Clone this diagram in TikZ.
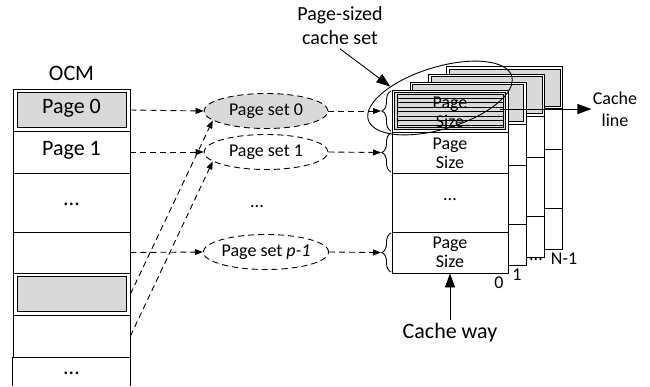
\documentclass[tikz,border=0pt]{standalone}
\usepackage{fontspec}
\setmainfont{Carlito}
\usepackage{tikz}
\usetikzlibrary{arrows.meta,calc,positioning,shapes.geometric,decorations.pathreplacing}
\definecolor{SetGray}{RGB}{217,217,217}

\begin{document}
\begin{tikzpicture}[x=1pt,y=-1pt,line width=.9pt,
  big/.style={font=\fontsize{22}{26}\selectfont},
  mid/.style={font=\fontsize{18}{22}\selectfont},
  ocmrow/.style={draw,minimum width=117,inner sep=0,big,text height=.75em,text depth=.15em},
  ocmfill/.style={draw,fill=SetGray,minimum width=109,minimum height=35,inner sep=0,big,text height=.75em,text depth=.15em},
  pageset/.style={ellipse,draw,dash pattern=on 6pt off 4pt,minimum width=124,minimum height=35,inner sep=0,mid},
  waytext/.style={align=center,font=\fontsize{18}{19}\selectfont,minimum width=116,inner sep=0},
  dasharrow/.style={dash pattern=on 6pt off 4pt,-{Triangle[length=8pt,width=6pt]}},
  bigarrow/.style={-{Triangle[length=14pt,width=10pt]}},
  setbrace/.style={decorate,decoration={brace,amplitude=9pt}}]

  \useasboundingbox (0,0) rectangle (650,386);

  % OCM column
  \node[big] (ocm) at (71.5,73) {OCM};
  \node[ocmrow,minimum height=42] (r0) at (71.5,110) {};
  \node[ocmfill] (f0) at (r0) {Page 0};
  \node[ocmrow,minimum height=42] (r1) at (71.5,152) {Page 1};
  \node[ocmrow,minimum height=59] (r2) at (71.5,202.5) {...};
  \node[ocmrow,minimum height=41] (r3) at (71.5,252.5) {};
  \node[ocmrow,minimum height=42] (r4) at (71.5,294) {};
  \node[ocmfill] (f4) at (r4) {};
  \node[ocmrow,minimum height=42] (r5) at (71.5,336) {};
  \node[ocmrow,draw=none,minimum height=29] (r6) at (71.5,371.5) {...};
  \draw (r6.north west) -- (r6.south west) (r6.north east) -- (r6.south east);

  % page sets
  \node[pageset,fill=SetGray] (ps0) at (266,111) {Page set 0};
  \node[pageset] (ps1) at (266,152) {Page set 1};
  \node[mid] (psd) at (257,207) {...};
  \node[pageset] (psp) at (266,252) {Page set \textit{p-1}};

  \draw[dasharrow] (r0.east) -- (ps0.west);
  \draw[dasharrow] (r1.east) -- (ps1.west);
  \draw[dasharrow] (r3.east) -- (psp.west);
  \draw[dasharrow] (r4.east) -- (ps0.190);
  \draw[dasharrow] (r5.east) -- (ps1.190);

  % cache ways, back to front
  \foreach \k in {3,2,1,0}{
    \begin{scope}[shift={(18.3*\k,-7.8*\k)}]
      \draw[fill=white] (392,90) rectangle (508,273);
      \draw (392,132) -- (508,132) (392,173) -- (508,173) (392,232) -- (508,232);
      \draw[fill=SetGray] (394.5,92.5) rectangle (505.5,129.5);
    \end{scope}
  }
  % cache lines of the first set
  \draw[line width=.7pt] (397,94.5) rectangle (503,127.5);
  \foreach \y in {98,102.5,...,125}
    \draw[line width=.7pt] (397,\y) -- (503,\y);

  \node[waytext] (s0) at (450,112) {Page\\Size};
  \node[waytext] (s1) at (450,153) {Page\\Size};
  \node[waytext] (s2) at (450,200) {...};
  \node[waytext,minimum height=41] (s3) at (450,252.5) {Page\\Size};

  % braces and set arrows
  \draw[setbrace] (391,131) -- (391,91);
  \draw[setbrace] (391,172) -- (391,133);
  \draw[setbrace] (391,272) -- (391,233);
  \coordinate (b0) at (381,111);
  \coordinate (b1) at (381,152.5);
  \coordinate (b3) at (381,252.5);
  \draw[dasharrow] (ps0.east) -- (b0);
  \draw[dasharrow] (ps1.east) -- (b1);
  \draw[dasharrow] (psp.east) -- (b3);

  % page-sized cache set
  \node[ellipse,draw,minimum width=150,minimum height=62,inner sep=0,rotate=17] (cset) at (440,98) {};
  \node[font=\fontsize{20}{24}\selectfont,align=center] (csetlbl) at (340,26) {Page-sized\\cache set};
  \draw[bigarrow] (csetlbl.south) -- (cset.150);

  % way numbers
  \node[mid] (n0) at (499,283) {0};
  \node[mid] (n1) at (517,275) {1};
  \node[mid] (nd) at (536,260) {...};
  \node[mid] (nn) at (564,259) {N-1};

  % cache line and cache way
  \coordinate (clstart) at (500,109);
  \node[mid,align=center,inner sep=1pt] (cline) at (615,109) {Cache\\line};
  \draw[bigarrow] (clstart) -- (cline.west);
  \node[big] (cway) at (450,333) {Cache way};
  \draw[bigarrow] (cway.north) -- (s3.south);
\end{tikzpicture}
\end{document}
